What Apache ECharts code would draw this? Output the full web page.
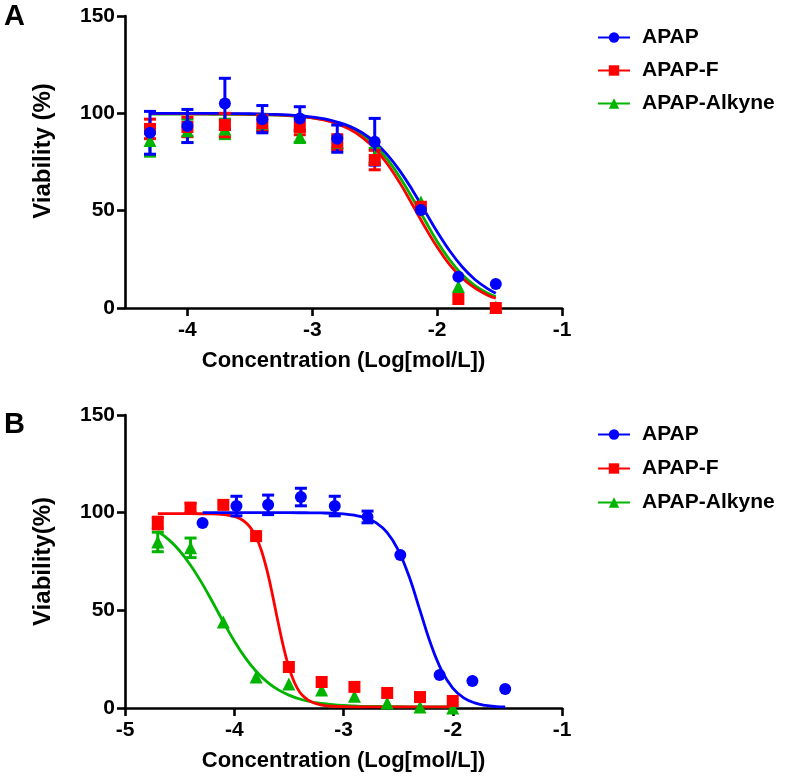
<!DOCTYPE html>
<html>
<head>
<meta charset="utf-8">
<script src="https://cdn.jsdelivr.net/npm/echarts@6/dist/echarts.min.js"></script>
<style>
html,body{margin:0;padding:0;background:#fff;}
#chart{width:792px;height:780px;}
</style>
</head>
<body>
<div id="chart"></div>
<script>
// ---------- DATA ----------
const seriesNames = ['APAP', 'APAP-F', 'APAP-Alkyne'];
const xTicksA = [-4, -3, -2, -1];
const xTicksB = [-5, -4, -3, -2, -1];
const yTicks = [0, 50, 100, 150];

// Panel A measured points (log dose, mean viability %, SD)
const A_dose = [-4.3, -4.0, -3.7, -3.4, -3.1, -2.8, -2.5, -2.13, -1.83, -1.53];
const A_APAP_mean = [90, 93.5, 105, 97, 97.4, 87, 85.4, 50.3, 16, 12.3];
const A_APAP_sd   = [11, 8.5, 13, 7, 6, 7, 12, 0, 0, 0];
const A_F_mean    = [92, 93, 94, 95, 93, 85, 76, 52, 4.6, 0];
const A_F_sd      = [5, 5, 6, 4, 4, 4, 5, 0, 0, 0];
const A_Alk_mean  = [86, 91, 92, 95, 88, 85, 78, 54.5, 11, 0.5];
const A_Alk_sd    = [8, 6, 5, 4, 3, 3, 4, 0, 0, 0];

// Panel A fitted curves
const A_curve_x    = [-4.3, -4.2, -4.1, -4.0, -3.9, -3.8, -3.7, -3.6, -3.5, -3.4, -3.3, -3.2, -3.1, -3.0, -2.9, -2.8, -2.7, -2.6, -2.5, -2.4, -2.3, -2.2, -2.1, -2.0, -1.9, -1.8, -1.7, -1.6, -1.53];
const A_APAP_curve = [100, 100, 100, 100, 99.96, 99.94, 99.91, 99.86, 99.78, 99.66, 99.48, 99.19, 98.76, 98.1, 97.1, 95.5, 93.3, 90.0, 85.2, 78.8, 70.6, 60.8, 50, 39.2, 29.4, 21.2, 14.8, 10.1, 7.6];
const A_F_curve    = [99.8, 99.8, 99.8, 99.8, 99.78, 99.75, 99.7, 99.66, 99.58, 99.45, 99.25, 98.94, 98.44, 97.66, 96.45, 94.6, 91.8, 87.7, 81.9, 74.1, 64.4, 53.3, 41.9, 31.3, 22.3, 15.4, 10.3, 6.7, 5.0];
const A_Alk_curve  = [99.6, 99.6, 99.6, 99.58, 99.56, 99.53, 99.5, 99.48, 99.4, 99.3, 99.1, 98.85, 98.4, 97.7, 96.7, 95.0, 92.6, 88.9, 83.6, 76.5, 67.3, 56.6, 45.3, 34.2, 24.8, 17.2, 11.6, 7.7, 5.7];

// Panel B measured points
const B_APAP_dose = [-4.29, -3.98, -3.69, -3.39, -3.08, -2.78, -2.48, -2.12, -1.82, -1.52];
const B_APAP_mean = [94.7, 103.4, 104, 108, 103.4, 97.8, 78.3, 16.9, 13.8, 9.7];
const B_APAP_sd   = [0, 5, 5, 4.5, 5, 3, 0, 0, 0, 0];
const B_FA_dose   = [-4.7, -4.4, -4.1, -3.8, -3.5, -3.2, -2.9, -2.6, -2.3, -2.0];
const B_F_mean    = [94.7, 102.4, 104, 88, 21, 13.3, 10.8, 7.7, 5.6, 3.6];
const B_F_sd      = [3, 2.5, 0, 0, 0, 0, 0, 0, 0, 0];
const B_Alk_mean  = [85, 82, 44, 15.9, 12.3, 9.2, 6, 2.6, 0.5, 0];
const B_Alk_sd    = [5, 5, 0, 0, 0, 0, 0, 0, 0, 0];

// Panel B fitted curves
const B_APAP_curve_x = [-4.29, -4.2, -4.0, -3.8, -3.6, -3.4, -3.3, -3.2, -3.1, -3.0, -2.9, -2.8, -2.7, -2.6, -2.5, -2.4, -2.3, -2.2, -2.1, -2.0, -1.9, -1.8, -1.7, -1.6, -1.52];
const B_APAP_curve   = [100, 100, 100, 100, 99.99, 99.97, 99.93, 99.85, 99.7, 99.4, 98.7, 97.4, 94.8, 89.8, 81.0, 67.4, 50, 32.6, 19.0, 10.2, 5.2, 2.6, 1.3, 0.7, 0.5];
const B_F_curve_x    = [-4.7, -4.6, -4.5, -4.4, -4.3, -4.2, -4.1, -4.05, -4.0, -3.95, -3.9, -3.85, -3.8, -3.75, -3.7, -3.65, -3.6, -3.55, -3.5, -3.45, -3.4, -3.35, -3.3, -3.25, -3.2, -3.1, -3.0, -2.8, -2.5, -2.2, -2.0];
const B_F_curve      = [99.5, 99.5, 99.5, 99.5, 99.45, 99.33, 99.0, 98.65, 98.03, 96.97, 95.19, 92.24, 87.53, 80.39, 70.42, 57.92, 44.28, 31.41, 20.87, 13.19, 8.04, 5.2, 3.3, 2.2, 1.5, 0.9, 0.7, 0.6, 0.6, 0.6, 0.6];
const B_Alk_curve_x  = [-4.7, -4.6, -4.5, -4.4, -4.3, -4.2, -4.1, -4.0, -3.9, -3.8, -3.7, -3.6, -3.5, -3.4, -3.3, -3.2, -3.1, -3.0, -2.9, -2.8, -2.6, -2.4, -2.2, -2.0];
const B_Alk_curve    = [90.4, 86.2, 80.5, 73.1, 64.3, 54.4, 44.1, 34.3, 25.8, 18.8, 13.4, 9.4, 6.6, 4.6, 3.2, 2.3, 1.7, 1.3, 1.05, 0.85, 0.7, 0.6, 0.55, 0.5];

// ---------- STYLE ----------
const FONT = "'Liberation Sans', Arial, sans-serif";
const COLORS = { 'APAP': '#0000ff', 'APAP-F': '#ff0000', 'APAP-Alkyne': '#00b400' };
const SYMBOLS = { 'APAP': 'circle', 'APAP-F': 'rect', 'APAP-Alkyne': 'triangle' };
const SYMSIZE = { 'APAP': 12, 'APAP-F': 12, 'APAP-Alkyne': 13 };

function zip(xs, ys) { return xs.map((x, i) => [x, ys[i]]); }
function zip3(xs, ys, ss) { return xs.map((x, i) => [x, ys[i], ss[i]]).filter(d => d[2] > 0); }

function curveSeries(name, xs, ys, idx) {
  return {
    type: 'line', name: name, xAxisIndex: idx, yAxisIndex: idx,
    data: zip(xs, ys), smooth: 0.4,
    symbol: SYMBOLS[name], symbolSize: SYMSIZE[name], showSymbol: false,
    lineStyle: { color: COLORS[name], width: 2.8 },
    itemStyle: { color: COLORS[name] },
    z: 3, silent: true
  };
}
function errSeries(name, xs, ys, ss, idx) {
  const c = COLORS[name];
  return {
    type: 'custom', xAxisIndex: idx, yAxisIndex: idx, z: 4, silent: true,
    data: zip3(xs, ys, ss),
    encode: { x: 0, y: 1 },
    renderItem: function (params, api) {
      const x = api.value(0), m = api.value(1), s = api.value(2);
      const t = api.coord([x, m + s]);
      const b = api.coord([x, m - s]);
      const hw = 6;
      const st = { stroke: c, lineWidth: 3 };
      return {
        type: 'group', children: [
          { type: 'line', shape: { x1: t[0], y1: t[1], x2: b[0], y2: b[1] }, style: st },
          { type: 'line', shape: { x1: t[0] - hw, y1: t[1], x2: t[0] + hw, y2: t[1] }, style: st },
          { type: 'line', shape: { x1: b[0] - hw, y1: b[1], x2: b[0] + hw, y2: b[1] }, style: st }
        ]
      };
    }
  };
}
function pointSeries(name, xs, ys, idx) {
  return {
    type: 'scatter', xAxisIndex: idx, yAxisIndex: idx, z: 4, silent: true,
    data: zip(xs, ys), symbol: SYMBOLS[name], symbolSize: SYMSIZE[name],
    itemStyle: { color: COLORS[name], opacity: 1 }
  };
}

function xAxis(idx, min, ticks) {
  return {
    type: 'value', gridIndex: idx, min: min, max: -1, interval: 0.5,
    name: 'Concentration (Log[mol/L])', nameLocation: 'middle', nameGap: 42,
    nameTextStyle: { fontFamily: FONT, fontSize: 22, fontWeight: 'bold', color: '#000' },
    axisLine: { show: true, onZero: false, lineStyle: { color: '#000', width: 2.6 } },
    axisTick: { show: true, customValues: ticks, length: 8, lineStyle: { color: '#000', width: 2.6 } },
    axisLabel: { customValues: ticks, margin: 12, fontFamily: FONT, fontSize: 21, fontWeight: 'bold', color: '#000' },
    splitLine: { show: false }
  };
}
function yAxis(idx, name, pad) {
  return {
    type: 'value', gridIndex: idx, min: 0, max: 150, interval: 50,
    name: name, nameLocation: 'middle', nameGap: 70,
    nameTextStyle: { fontFamily: FONT, fontSize: 24, fontWeight: 'bold', color: '#000', padding: pad },
    axisLine: { show: true, onZero: false, lineStyle: { color: '#000', width: 2.6 } },
    axisTick: { show: true, length: 8, lineStyle: { color: '#000', width: 2.6 } },
    axisLabel: { margin: 10, fontFamily: FONT, fontSize: 21, fontWeight: 'bold', color: '#000' },
    splitLine: { show: false }
  };
}
function legend(top, gap) {
  return {
    orient: 'vertical', left: 592, top: top, itemWidth: 32, itemHeight: 13, itemGap: gap,
    data: seriesNames, selectedMode: false,
    textStyle: { fontFamily: FONT, fontSize: 21, fontWeight: 'bold', color: '#000', padding: [0, 0, 0, 7] }
  };
}

const order = ['APAP-Alkyne', 'APAP-F', 'APAP'];
const A = {
  'APAP': [A_dose, A_APAP_mean, A_APAP_sd, A_curve_x, A_APAP_curve],
  'APAP-F': [A_dose, A_F_mean, A_F_sd, A_curve_x, A_F_curve],
  'APAP-Alkyne': [A_dose, A_Alk_mean, A_Alk_sd, A_curve_x, A_Alk_curve]
};
const B = {
  'APAP': [B_APAP_dose, B_APAP_mean, B_APAP_sd, B_APAP_curve_x, B_APAP_curve],
  'APAP-F': [B_FA_dose, B_F_mean, B_F_sd, B_F_curve_x, B_F_curve],
  'APAP-Alkyne': [B_FA_dose, B_Alk_mean, B_Alk_sd, B_Alk_curve_x, B_Alk_curve]
};

const series = [];
order.forEach(n => {
  series.push(curveSeries(n, A[n][3], A[n][4], 0));
  series.push(curveSeries(n, B[n][3], B[n][4], 1));
});
[[A, 0], [B, 1]].forEach(([P, idx]) => {
  order.forEach(n => {
    series.push(errSeries(n, P[n][0], P[n][1], P[n][2], idx));
    series.push(pointSeries(n, P[n][0], P[n][1], idx));
  });
});

const option = {
  animation: false,
  backgroundColor: '#fff',
  grid: [
    { left: 125, top: 16, width: 437, height: 292 },
    { left: 125, top: 415, width: 437, height: 293 }
  ],
  xAxis: [xAxis(0, -4.5, xTicksA), xAxis(1, -5, xTicksB)],
  yAxis: [yAxis(0, 'Viability (%)', [0, 0, 0, 22]), yAxis(1, 'Viability(%)', [0, 0, 0, 0])],
  legend: [legend(22, 12), legend(419, 13)],
  graphic: [
    { type: 'text', left: 4, top: 2, style: { text: 'A', font: "bold 29px 'Liberation Sans', Arial, sans-serif", fill: '#000' } },
    { type: 'text', left: 4, top: 410, style: { text: 'B', font: "bold 29px 'Liberation Sans', Arial, sans-serif", fill: '#000' } }
  ],
  series: series
};

const chart = echarts.init(document.getElementById('chart'), null, { renderer: 'canvas' });
chart.setOption(option);
</script>
</body>
</html>
